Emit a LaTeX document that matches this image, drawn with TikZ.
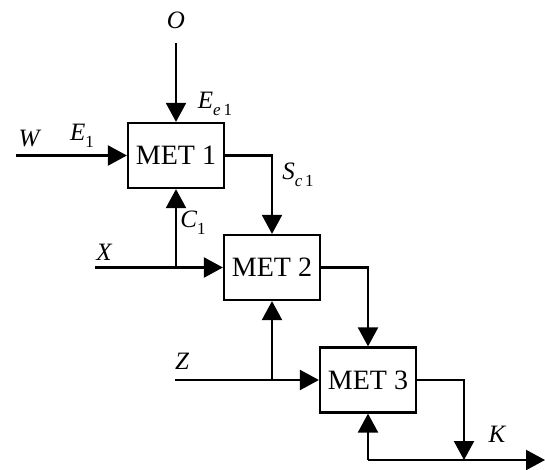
\documentclass[tikz,border=0pt]{standalone}
\usepackage{fontspec}
\setmainfont{Liberation Serif}
\usetikzlibrary{arrows.meta}
\newcommand\lblsub[1]{\raisebox{-0.28em}{\fontsize{17}{17}\selectfont #1}}
\begin{document}
\begin{tikzpicture}[x=1pt,y=-1pt,
  met/.style={draw,line width=2.2pt,minimum width=96pt,minimum height=65pt,inner sep=0pt,font=\fontsize{28}{32}\selectfont},
  flow/.style={line width=2.2pt,-{Triangle[length=19pt,width=20pt]}},
  lbl/.style={inner sep=0pt,font=\fontsize{25}{28}\selectfont\itshape}]
\useasboundingbox (0,0) rectangle (545,470);
\node[met] (m1) at (176,155.5) {MET 1};
\node[met] (m2) at (272,267.5) {MET 2};
\node[met] (m3) at (368,380) {MET 3};
\coordinate (o) at (176,43);
\coordinate (w) at (16,155.5);
\coordinate (x) at (95,267.5);
\coordinate (j1) at (176,267.5);
\coordinate (z) at (175,380);
\coordinate (j2) at (272,380);
\coordinate (k1) at (464,460);
\coordinate (j3) at (368,460);
\coordinate (kend) at (545,460);
\draw[flow] (o) -- (m1.north);
\draw[flow] (w) -- (m1.west);
\draw[flow] (m1.east) -| (m2.north);
\draw[flow] (x) -- (m2.west);
\draw[flow] (j1) -- (m1.south);
\draw[flow] (m2.east) -| (m3.north);
\draw[flow] (z) -- (m3.west);
\draw[flow] (j2) -- (m2.south);
\draw[flow] (m3.east) -| (k1);
\draw[flow] (j3) -- (kend);
\draw[flow] (j3) -- (m3.south);
\node[lbl] (lo) at (176,20) {O};
\node[lbl] (lw) at (29,139) {W};
\node[lbl] (le1) at (82,136) {E\lblsub{\upshape 1}};
\node[lbl] (lee) at (215,104) {E\lblsub{e\,\upshape 1}};
\node[lbl] (lsc) at (298,175) {S\lblsub{c\,\upshape 1}};
\node[lbl] (lc1) at (193,223) {C\lblsub{\upshape 1}};
\node[lbl] (lx) at (104,252) {X};
\node[lbl] (lz) at (182,361) {Z};
\node[lbl] (lk) at (497,434) {K};
\end{tikzpicture}
\end{document}
